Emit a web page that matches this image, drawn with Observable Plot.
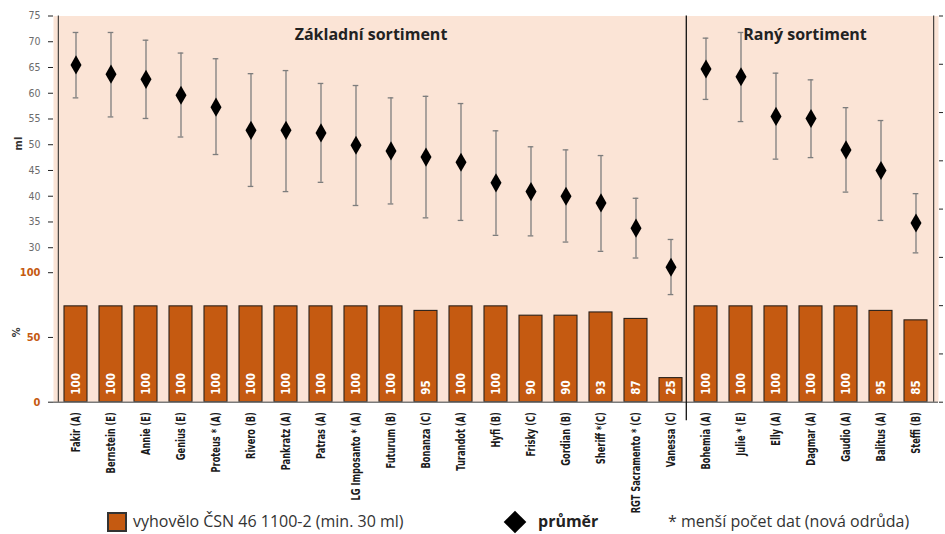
<!DOCTYPE html>
<html><head><meta charset="utf-8">
<script src="https://cdn.jsdelivr.net/npm/d3@7"></script>
<script src="https://cdn.jsdelivr.net/npm/@observablehq/plot@0.6"></script>
<style>
body{margin:0;background:#fff;}
#wrap{position:relative;width:945px;height:534px;overflow:hidden;}
#chart{position:absolute;left:0;top:0;}
#chart svg{font-stretch:condensed;}
#chart svg [font-family="Open Sans"]{font-stretch:normal;}
.lg{position:absolute;font-family:"Open Sans",sans-serif;font-size:16px;line-height:20px;color:#333;white-space:nowrap;}
</style></head><body>
<div id="wrap"><div id="chart"></div>
<div class="lg" style="left:107px;top:512px;width:20px;height:20px;background:#c55a11;border:2px solid #333;box-sizing:border-box;"></div>
<div class="lg" style="left:133px;top:511px;">vyhovělo ČSN 46 1100-2 (min. 30 ml)</div>
<div class="lg" style="left:507px;top:514px;width:16px;height:16px;background:#000;transform:rotate(45deg);"></div>
<div class="lg" style="left:538px;top:511px;font-weight:700;color:#222;">průměr</div>
<div class="lg" style="left:668px;top:511px;">* menší počet dat (nová odrůda)</div>
</div>
<script>
const cultivars = ["Fakir (A)","Bernstein (E)","Annie (E)","Genius (E)","Proteus * (A)","Rivero (B)","Pankratz (A)","Patras (A)","LG Imposanto * (A)","Futurum (B)","Bonanza (C)","Turandot (A)","Hyfi (B)","Frisky (C)","Gordian (B)","Sheriff *(C)","RGT Sacramento * (C)","Vanessa (C)","Bohemia (A)","Julie * (E)","Elly (A)","Dagmar (A)","Gaudio (A)","Balitus (A)","Steffi (B)"];
const meanMl = [65.5,63.7,62.7,59.6,57.3,52.8,52.8,52.3,49.9,48.8,47.6,46.6,42.6,40.9,40.0,38.7,33.8,26.2,64.7,63.2,55.5,55.1,49.0,45.0,34.8];
const maxMl  = [71.8,71.8,70.3,67.8,66.7,63.8,64.4,61.9,61.5,59.1,59.4,58.0,52.7,49.6,49.0,47.9,39.6,31.6,70.7,71.8,63.9,62.6,57.2,54.7,40.5];
const minMl  = [59.1,55.4,55.1,51.5,48.1,41.9,40.9,42.7,38.2,38.5,35.8,35.3,32.4,32.3,31.1,29.3,28.0,20.9,58.8,54.5,47.2,47.5,40.8,35.3,29.0];
const pctLabel = [100,100,100,100,100,100,100,100,100,100,95,100,100,90,90,93,87,25,100,100,100,100,100,95,85];
const barPct = [74,74,74,74,74,74,74,74,74,74,70.5,74,74,66.8,66.8,69.3,64.3,18.6,74,74,74,74,74,70.5,63.2];
const mlTicks = [30,35,40,45,50,55,60,65,70,75];
const pctTicks = [0,50,100];
const sectionTitles = ["Základní sortiment","Raný sortiment"];
const sectionAt = ["LG Imposanto * (A)","Dagmar (A)"];
const firstEarly = "Bohemia (A)";

const PCT_TO_ML = 25.15/100; // % axis occupies the bottom part of the ml frame
const W = 945, H = 534, ML = 53, MR = 7;
const BW = (W-ML-MR)/cultivars.length;
const rows = cultivars.map((c,i)=>({c, mean:meanMl[i], lo:minMl[i], hi:maxMl[i], pct:pctLabel[i], bar:barPct[i]*PCT_TO_ML}));
const axisColor = "#222";
const NARROW = "'Liberation Sans Narrow','DejaVu Sans Condensed','DejaVu Sans',sans-serif";
const plot = Plot.plot({
  width:W, height:H, marginLeft:ML, marginRight:MR, marginTop:15.5, marginBottom:132.3,
  x:{domain:cultivars, padding:0, axis:null},
  y:{domain:[0,75], axis:null},
  style:{fontFamily:NARROW, background:"transparent", overflow:"visible"},
  marks:[
    Plot.frame({fill:"#fbe4d6", stroke:null}),
    Plot.barY(rows,{x:"c", y:"bar", fill:"#c55a11", stroke:"#2a211b", strokeWidth:1.1, insetLeft:6, insetRight:6}),
    Plot.text(rows,{x:"c", y:0, text:d=>String(d.pct), rotate:-90, textAnchor:"start", dy:-7.5, fill:"white", fontWeight:"bold", fontSize:11.5}),
    Plot.ruleX(rows,{x:"c", y1:"lo", y2:"hi", stroke:"#7d7d7d", strokeWidth:1.3}),
    Plot.tickY(rows,{x:"c", y:"hi", stroke:"#7d7d7d", strokeWidth:1.3, insetLeft:14.7, insetRight:14.7}),
    Plot.tickY(rows,{x:"c", y:"lo", stroke:"#7d7d7d", strokeWidth:1.3, insetLeft:14.7, insetRight:14.7}),
    Plot.dot(rows,{x:"c", y:"mean", symbol:"diamond", r:5.8, fill:"#000", stroke:"none"}),
    Plot.ruleY([0],{stroke:"#7a7a7a", strokeWidth:1.5}),
    Plot.ruleX([cultivars[0]],{x:d=>d, y1:0, y2:75, dx:-BW/2, stroke:axisColor}),
    Plot.ruleX([cultivars[cultivars.length-1]],{x:d=>d, y1:0, y2:75, dx:BW/2, stroke:axisColor}),
    Plot.ruleX([firstEarly],{x:d=>d, y1:-3.6, y2:75, dx:-BW/2-2, stroke:"#111", strokeWidth:1.3}),
    Plot.axisY(mlTicks,{anchor:"left", tickSize:5, tickPadding:8, fill:"#6b6b6b", stroke:axisColor, fontSize:10.5}),
    Plot.axisY(pctTicks.map(p=>p*PCT_TO_ML),{anchor:"left", tickSize:5, tickPadding:8, tickFormat:d=>String(Math.round(d/PCT_TO_ML)), fill:"#c55a11", stroke:axisColor, fontSize:11, fontWeight:"bold"}),
    Plot.axisY(d3.range(9).map(i=>i*75/8),{anchor:"right", tickSize:4, tickFormat:()=>"", stroke:axisColor}),
    Plot.axisX({tickRotate:-90, tickSize:0, tickPadding:10, label:null, fontWeight:"bold", fontSize:11.5, fill:"#1a1a1a"}),
    Plot.text(["ml"],{frameAnchor:"left", y:48.9, dx:-35, rotate:-90, text:d=>d, fontWeight:"bold", fontSize:11, fill:"#333"}),
    Plot.text(["%"],{frameAnchor:"left", y:12.6, dx:-37, rotate:-90, text:d=>d, fontWeight:"bold", fontSize:11, fill:"#333"}),
    Plot.text([sectionTitles[0]],{x:()=>sectionAt[0], y:71.4, dx:15, text:d=>d, fontFamily:"Open Sans", fontWeight:700, fontSize:16, fill:"#222"}),
    Plot.text([sectionTitles[1]],{x:()=>sectionAt[1], y:71.4, dx:-6, text:d=>d, fontFamily:"Open Sans", fontWeight:700, fontSize:16, fill:"#222"})
  ]
});
// compress the rotated category labels along their length, like a narrow face
d3.select(plot).selectAll('g[aria-label="x-axis tick label"] text').each(function(){
  const t = this.getAttribute("transform") || "";
  this.setAttribute("transform", t + " scale(0.8,1.12)");
});
document.getElementById("chart").appendChild(plot);
</script>
</body></html>
